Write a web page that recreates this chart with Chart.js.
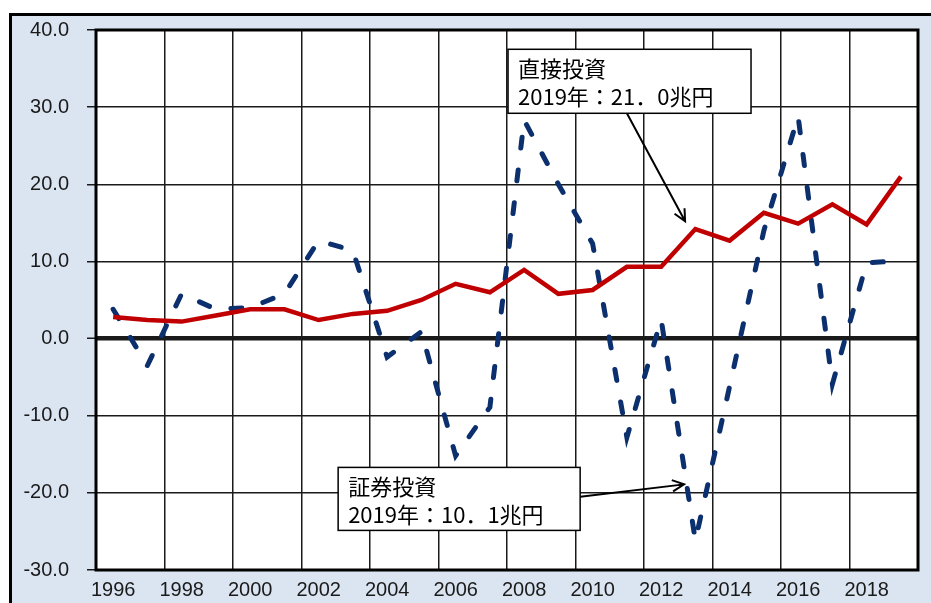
<!DOCTYPE html>
<html>
<head>
<meta charset="utf-8">
<script src="https://cdn.jsdelivr.net/npm/chart.js@4"></script>
<style>
  html, body { margin: 0; padding: 0; background: #fff; width: 931px; height: 603px; overflow: hidden; }
  #frame { position: absolute; left: 9px; top: 13px; width: 940px; height: 620px; background: #dbe5f1; border-top: 3px solid #000; border-left: 3px solid #000; }
  #wrap { position: absolute; left: 0; top: 0; width: 931px; height: 603px; }
</style>
</head>
<body>
<div id="frame"></div>
<div id="wrap"><canvas id="chart"></canvas></div>
<script>
// 年
const years = ['1996','1997','1998','1999','2000','2001','2002','2003','2004','2005','2006','2007',
               '2008','2009','2010','2011','2012','2013','2014','2015','2016','2017','2018','2019'];
// 直接投資（兆円）
const directInvestment = [2.8, 2.4, 2.2, 3.0, 3.8, 3.8, 2.4, 3.2, 3.6, 5.0, 7.1, 6.0,
                          8.9, 5.8, 6.3, 9.3, 9.3, 14.2, 12.7, 16.3, 14.9, 17.4, 14.8, 21.0];
// 証券投資（兆円）
const portfolioInvestment = [3.8, -3.5, 5.8, 3.8, 4.0, 5.8, 12.7, 11.4, -2.4, 0.9, -15.2, -8.9,
                             28.3, 20.0, 12.3, -12.8, 2.5, -26.2, -6.2, 14.0, 28.8, -5.9, 9.8, 10.1];
// 縦軸
const yMin = -30;
const yMax = 40;
const yStep = 10;

// 吹き出し（位置は軸の値で指定）
const notes = [
  { lines: ['直接投資', '2019年：21．0兆円'], at: [11.53, 37.5], w: 243, h: 64, from: [15.0, 29.2], to: [16.7, 15.2] },
  { lines: ['証券投資', '2019年：10．1兆円'], at: [6.57, -16.7], w: 242, h: 63, from: [13.64, -20.5], to: [16.67, -18.9] }
];

const tickFont = { family: '"Liberation Sans", Arial, sans-serif', size: 20 };
const gridColor = '#1a1a1a';

// プロット領域の白背景
const plotBg = {
  id: 'plotBg',
  beforeDraw(chart) {
    const { ctx, chartArea: a } = chart;
    ctx.save();
    ctx.fillStyle = '#fff';
    ctx.fillRect(a.left, a.top, a.right - a.left, a.bottom - a.top);
    ctx.restore();
  }
};

function drawArrow(ctx, x1, y1, x2, y2) {
  const ang = Math.atan2(y2 - y1, x2 - x1);
  const len = 13;
  ctx.beginPath();
  ctx.moveTo(x1, y1);
  ctx.lineTo(x2, y2);
  ctx.moveTo(x2 - len * Math.cos(ang - 0.45), y2 - len * Math.sin(ang - 0.45));
  ctx.lineTo(x2, y2);
  ctx.lineTo(x2 - len * Math.cos(ang + 0.45), y2 - len * Math.sin(ang + 0.45));
  ctx.stroke();
}

// 枠線と注記
const frameAndNotes = {
  id: 'frameAndNotes',
  afterDatasetsDraw(chart) {
    const { ctx, chartArea: a, scales } = chart;
    const X = v => scales.x.getPixelForValue(v);
    const Y = v => scales.y.getPixelForValue(v);
    ctx.save();
    ctx.strokeStyle = '#000';
    ctx.lineWidth = 3;
    ctx.strokeRect(a.left, a.top, a.right - a.left, a.bottom - a.top);

    notes.forEach(n => {
      ctx.strokeStyle = '#000';
      ctx.lineWidth = 2;
      drawArrow(ctx, X(n.from[0]), Y(n.from[1]), X(n.to[0]), Y(n.to[1]));
      const bx = X(n.at[0]), by = Y(n.at[1]);
      ctx.fillStyle = '#fff';
      ctx.fillRect(bx, by, n.w, n.h);
      ctx.lineWidth = 1.5;
      ctx.strokeRect(bx, by, n.w, n.h);
      ctx.fillStyle = '#000';
      ctx.font = '22px "Noto Sans CJK JP", sans-serif';
      ctx.textBaseline = 'middle';
      ctx.textAlign = 'left';
      ctx.fillText(n.lines[0], bx + 10, by + 19);
      ctx.fillText(n.lines[1], bx + 10, by + 47.5);
    });
    ctx.restore();
  }
};

new Chart(document.getElementById('chart'), {
  type: 'line',
  data: {
    labels: years,
    datasets: [
      {
        label: '直接投資',
        data: directInvestment,
        borderColor: '#c00000',
        borderWidth: 4.5,
        pointRadius: 0,
        tension: 0
      },
      {
        label: '証券投資',
        data: portfolioInvestment,
        borderColor: '#0c2f6e',
        borderWidth: 5,
        borderDash: [11, 22],
        borderCapStyle: 'round',
        pointRadius: 0,
        tension: 0
      }
    ]
  },
  options: {
    responsive: true,
    maintainAspectRatio: false,
    animation: false,
    layout: { padding: { top: 28, right: 13, bottom: 0, left: 0 } },
    plugins: { legend: { display: false }, tooltip: { enabled: false } },
    scales: {
      x: {
        type: 'category',
        offset: true,
        border: { display: false },
        grid: {
          offset: true,
          drawTicks: false,
          lineWidth: 1.5,
          color: c => (c.index === undefined || c.index % 2 === 0) ? gridColor : 'rgba(0,0,0,0)'
        },
        ticks: {
          autoSkip: false,
          maxRotation: 0,
          padding: 8,
          color: '#1a1a1a',
          font: tickFont,
          callback: (v, i) => (i % 2 === 0 ? years[i] : '')
        },
        afterFit: s => { s.height = 33; }
      },
      y: {
        min: yMin,
        max: yMax,
        border: { display: false },
        grid: {
          color: gridColor,
          lineWidth: c => (c.tick && c.tick.value === 0 ? 4.5 : 1.5),
          tickWidth: 1.5,
          tickLength: 9
        },
        ticks: {
          stepSize: yStep,
          padding: 18,
          color: '#1a1a1a',
          font: tickFont,
          callback: v => Number(v).toFixed(1)
        },
        afterFit: s => { s.width = 96; }
      }
    }
  },
  plugins: [plotBg, frameAndNotes]
});
</script>
</body>
</html>
